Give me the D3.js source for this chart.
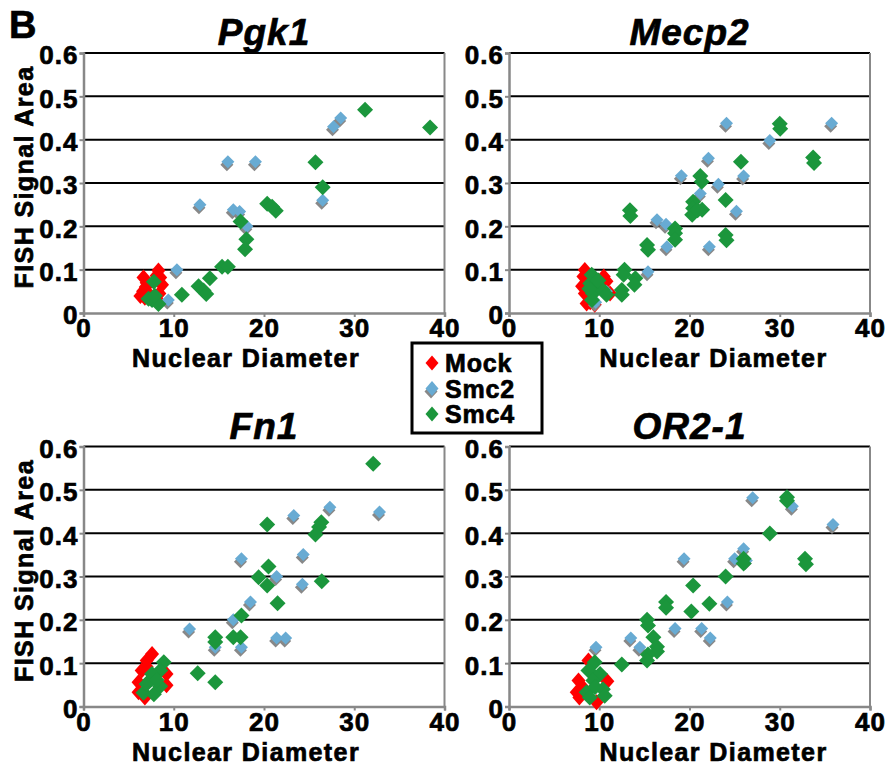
<!DOCTYPE html>
<html>
<head>
<meta charset="utf-8">
<script src="https://cdn.jsdelivr.net/npm/d3@7"></script>
<style>
  body { margin: 0; background: #fff; }
  text { font-family: "Liberation Sans", Arial, Helvetica, sans-serif; font-weight: bold; stroke: #000; stroke-width: 0.7px; }
</style>
</head>
<body>
<div id="chart"></div>
<script>
const width = 887
const height = 765

// values: [nuclear diameter, FISH signal area]
const seriesNames = ["Mock", "Smc2", "Smc4"]
const panelTitles = ["Pgk1", "Mecp2", "Fn1", "OR2-1"]
const xTicks = [0, 10, 20, 30, 40]
const yTicks = [0, 0.1, 0.2, 0.3, 0.4, 0.5, 0.6]
const yTickLabels = ["0", "0.1", "0.2", "0.3", "0.4", "0.5", "0.6"]

const pgk1Mock = [[6.65, 0.082], [6.3, 0.039], [8.3, 0.098], [8.5, 0.082], [8.7, 0.065], [6.9, 0.06], [6.6, 0.05],
  [8.1, 0.086], [7.2, 0.045], [8.4, 0.045], [6.8, 0.035], [8.2, 0.03], [7.0, 0.07]]
const pgk1Smc2 = [[9.4, 0.03], [10.35, 0.10], [12.9, 0.25], [16.0, 0.349], [19.05, 0.349], [16.6, 0.238], [17.3, 0.234],
  [18.1, 0.20], [26.5, 0.26], [27.7, 0.43], [28.5, 0.45]]
const pgk1Smc4 = [[31.2, 0.469], [38.4, 0.428], [25.7, 0.348], [26.5, 0.29], [20.35, 0.252], [21.3, 0.236], [20.9, 0.245],
  [17.4, 0.211], [18.05, 0.17], [17.9, 0.147], [15.35, 0.107], [16.0, 0.107], [14.0, 0.08], [12.75, 0.062],
  [13.3, 0.052], [13.6, 0.044], [10.9, 0.042], [7.8, 0.072], [7.6, 0.03], [8.3, 0.021], [7.2, 0.033], [7.9, 0.04]]

const mecp2Mock = [[8.4, 0.099], [8.25, 0.084], [8.4, 0.045], [8.6, 0.022], [9.5, 0.019], [10.5, 0.084], [10.8, 0.073],
  [11.2, 0.045], [8.1, 0.062], [9.0, 0.025]]
const mecp2Smc2 = [[24.1, 0.438], [35.75, 0.438], [28.9, 0.398], [22.1, 0.357], [19.1, 0.317], [26.0, 0.316],
  [23.2, 0.297], [21.2, 0.276], [25.2, 0.235], [16.4, 0.215], [17.4, 0.205], [17.5, 0.153], [22.2, 0.153],
  [15.4, 0.095], [9.6, 0.025], [10.8, 0.05]]
const mecp2Smc4 = [[30.0, 0.437], [30.05, 0.425], [33.7, 0.359], [33.8, 0.346], [25.7, 0.349], [21.2, 0.316],
  [21.35, 0.303], [24.0, 0.261], [20.4, 0.257], [20.4, 0.242], [21.4, 0.238], [20.3, 0.227], [20.9, 0.237],
  [13.4, 0.237], [13.45, 0.224], [15.3, 0.157], [15.4, 0.146], [18.4, 0.195], [18.4, 0.184], [18.4, 0.169],
  [24.0, 0.18], [24.1, 0.168], [12.8, 0.1], [12.7, 0.088], [14.0, 0.08], [13.9, 0.065], [12.5, 0.053], [12.5, 0.042],
  [9.16, 0.088], [9.0, 0.068], [9.7, 0.06], [9.3, 0.045], [10.4, 0.053], [10.8, 0.042], [9.2, 0.03], [9.9, 0.075],
  [8.9, 0.056]]

const fn1Mock = [[7.6, 0.121], [7.0, 0.106], [6.45, 0.083], [6.1, 0.056], [6.1, 0.033], [9.2, 0.075], [9.2, 0.049],
  [6.8, 0.021], [7.0, 0.092]]
const fn1Smc2 = [[32.8, 0.449], [27.3, 0.46], [23.3, 0.441], [17.5, 0.341], [24.35, 0.351], [21.4, 0.30],
  [24.25, 0.282], [18.5, 0.241], [16.6, 0.2], [11.75, 0.179], [21.4, 0.158], [22.4, 0.158], [17.5, 0.137],
  [14.6, 0.137]]
const fn1Smc4 = [[32.1, 0.56], [20.35, 0.42], [26.35, 0.425], [26.1, 0.414], [25.7, 0.397], [20.5, 0.323],
  [19.4, 0.298], [20.35, 0.279], [26.4, 0.289], [21.5, 0.238], [17.5, 0.21], [17.4, 0.16], [16.6, 0.16],
  [14.6, 0.16], [14.6, 0.149], [12.65, 0.077], [14.6, 0.056], [8.9, 0.102], [8.5, 0.083], [7.4, 0.061],
  [6.65, 0.032], [7.8, 0.028], [8.5, 0.047], [7.0, 0.052], [7.6, 0.075], [8.1, 0.061]]

const or21Mock = [[8.8, 0.106], [7.7, 0.06], [7.5, 0.033], [7.8, 0.021], [10.9, 0.058], [9.7, 0.01], [8.2, 0.044]]
const or21Smc2 = [[27.0, 0.482], [31.4, 0.462], [35.9, 0.42], [19.4, 0.341], [26.0, 0.364], [25.0, 0.341],
  [26.3, 0.337], [24.2, 0.241], [18.4, 0.18], [21.35, 0.18], [22.3, 0.158], [13.5, 0.158], [14.5, 0.137],
  [9.64, 0.137]]
const or21Smc4 = [[30.8, 0.483], [30.8, 0.475], [28.9, 0.399], [32.8, 0.341], [32.9, 0.328], [26.0, 0.341],
  [26.0, 0.33], [24.0, 0.3], [20.4, 0.279], [22.2, 0.237], [20.2, 0.219], [17.4, 0.241], [17.4, 0.228],
  [15.3, 0.2], [15.4, 0.187], [16.0, 0.16], [16.4, 0.138], [16.4, 0.127], [15.4, 0.12], [15.3, 0.106],
  [12.5, 0.097], [9.5, 0.102], [8.8, 0.083], [10.1, 0.075], [9.35, 0.06], [8.6, 0.033], [8.95, 0.021],
  [10.4, 0.04], [10.6, 0.025], [9.55, 0.045]]

const colors = { Mock: "#ff0000", Smc2: "#68abd3", Smc4: "#1b963c" }
const sizes = { Mock: [7, 8], Smc2: [6.5, 6.5], Smc4: [8, 8] }

const panels = [
  { title: "Pgk1", series: [pgk1Mock, pgk1Smc2, pgk1Smc4], left: 83.5, top: 53, yLabel: true, xLabelShift: -18 },
  { title: "Mecp2", series: [mecp2Mock, mecp2Smc2, mecp2Smc4], left: 509, top: 53, yLabel: false, xLabelShift: 24 },
  { title: "Fn1", series: [fn1Mock, fn1Smc2, fn1Smc4], left: 83.5, top: 446.5, yLabel: true, xLabelShift: -18 },
  { title: "OR2-1", series: [or21Mock, or21Smc2, or21Smc4], left: 509, top: 446.5, yLabel: false, xLabelShift: 24 }
]
const plotW = 361
const plotH = 260

const svg = d3.select("div#chart").append("svg").attr("width", width).attr("height", height)

const diamond = (cx, cy, s) => `M${cx},${cy - s[1]}L${cx + s[0]},${cy}L${cx},${cy + s[1]}L${cx - s[0]},${cy}Z`

svg.append("text").attr("x", 9).attr("y", 38).text("B").style("font-size", "38px")

panels.forEach(p => {
  const g = svg.append("g").attr("transform", `translate(${p.left}, ${p.top})`)
  const x = d3.scaleLinear().domain([0, 40]).range([0, plotW])
  const y = d3.scaleLinear().domain([0, 0.6]).range([plotH, 0])

  // grid lines
  g.selectAll("line.grid").data(yTicks.filter(d => d > 0)).enter().append("line")
    .attr("class", "grid")
    .attr("x1", 0).attr("x2", plotW)
    .attr("y1", d => y(d)).attr("y2", d => y(d))
    .attr("stroke", "#000").attr("stroke-width", 2)

  // right border
  g.append("line").attr("x1", plotW).attr("x2", plotW).attr("y1", 0).attr("y2", plotH)
    .attr("stroke", "#888").attr("stroke-width", 2)

  const yAxis = d3.axisLeft(y).tickValues(yTicks).tickFormat((d, i) => yTickLabels[i]).tickSize(4).tickPadding(1)
  const xAxis = d3.axisBottom(x).tickValues(xTicks).tickFormat(d3.format("d")).tickSize(4).tickPadding(1)

  const yg = g.append("g").call(yAxis)
  const xg = g.append("g").attr("transform", `translate(0, ${plotH})`).call(xAxis)
  ;[yg, xg].forEach(a => {
    a.select(".domain").attr("stroke", "#888").attr("stroke-width", 2.5)
    a.selectAll(".tick line").attr("stroke", "#888").attr("stroke-width", 2)
    a.selectAll(".tick text").attr("fill", "#000")
      .style("font-family", "'Liberation Sans', Arial, sans-serif").style("font-weight", "bold")
      .style("font-size", "26px").style("letter-spacing", "1px")
  })
  yg.selectAll(".tick text").attr("dy", "0.42em")
  xg.selectAll(".tick text").attr("dy", "0.74em")

  // points: Mock, then Smc2 (with shadow), then Smc4
  p.series.forEach((data, i) => {
    const name = seriesNames[i]
    if (name === "Smc2") {
      g.selectAll(`path.shadow${i}`).data(data).enter().append("path")
        .attr("d", d => diamond(x(d[0]) - 1, y(d[1]) + 3, sizes[name]))
        .attr("fill", "#888")
    }
    g.selectAll(`path.s${i}`).data(data).enter().append("path")
      .attr("class", `s${i}`)
      .attr("d", d => diamond(x(d[0]), y(d[1]), sizes[name]))
      .attr("fill", colors[name])
  })

  g.append("text").attr("x", plotW / 2).attr("y", -8).attr("text-anchor", "middle")
    .text(p.title).style("font-size", "37px").style("font-style", "italic").style("letter-spacing", "1px")

  g.append("text").attr("x", plotW / 2 + p.xLabelShift).attr("y", plotH + 54).attr("text-anchor", "middle")
    .text("Nuclear Diameter").style("font-size", "25px").style("letter-spacing", "1.4px")

  if (p.yLabel) {
    g.append("text").attr("transform", `translate(${33 - p.left}, ${plotH / 2 - 6}) rotate(-90)`)
      .attr("text-anchor", "middle")
      .text("FISH Signal Area").style("font-size", "25px").style("letter-spacing", "1.4px")
  }
})

// legend
const legend = svg.append("g").attr("transform", "translate(412, 343)")
legend.append("rect").attr("width", 130).attr("height", 90)
  .attr("fill", "#fff").attr("stroke", "#000").attr("stroke-width", 3)
seriesNames.forEach((name, i) => {
  const cy = 20 + i * 25.5
  if (name === "Smc2") legend.append("path").attr("d", diamond(19, cy + 3, [6.5, 7])).attr("fill", "#888")
  legend.append("path").attr("d", diamond(20, cy, [6.5, 7.5])).attr("fill", colors[name])
  legend.append("text").attr("x", 33).attr("y", cy + 9).text(name).style("font-size", "25px").style("letter-spacing", "0.8px")
})
</script>
</body>
</html>
